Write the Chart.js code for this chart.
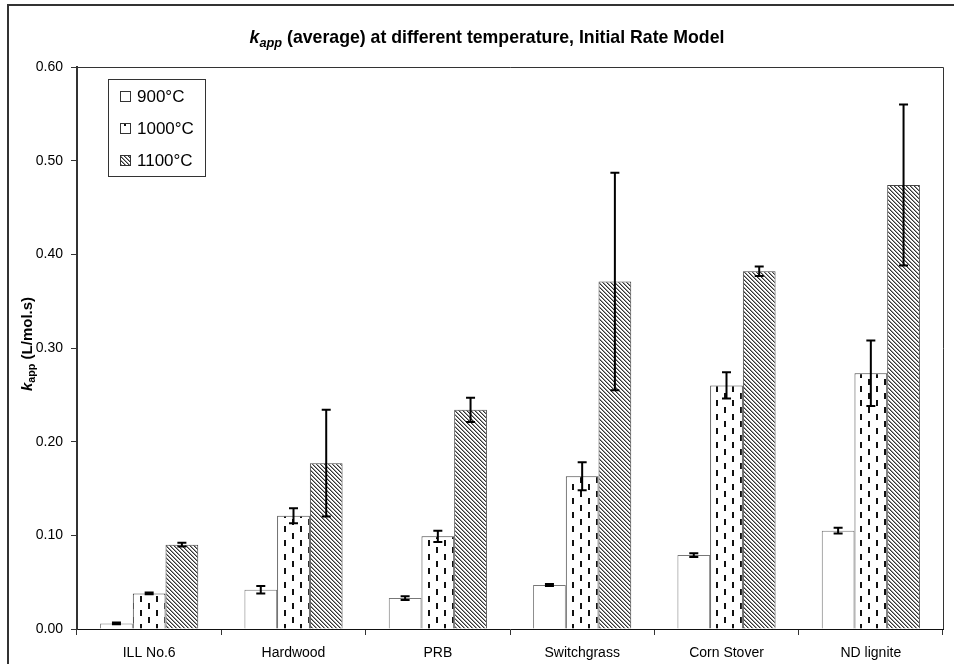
<!DOCTYPE html>
<html>
<head>
<meta charset="utf-8">
<script src="https://cdn.jsdelivr.net/npm/chart.js@4.4.1/dist/chart.umd.min.js"></script>
<style>
  html, body { margin: 0; padding: 0; background: #fff; }
  #wrap { position: relative; width: 954px; height: 664px; overflow: hidden; }
  canvas { display: block; }
</style>
</head>
<body>
<div id="wrap"><canvas id="kappChart" width="954" height="664"></canvas></div>
<script>
// Data
const categories = ["ILL No.6", "Hardwood", "PRB", "Switchgrass", "Corn Stover", "ND lignite"];
const seriesLabels = ["900°C", "1000°C", "1100°C"];
const k900 = [0.006, 0.042, 0.033, 0.047, 0.079, 0.105];
const k1000 = [0.038, 0.121, 0.099, 0.163, 0.260, 0.273];
const k1100 = [0.090, 0.177, 0.234, 0.371, 0.382, 0.474];
const err900 = [0.001, 0.004, 0.002, 0.001, 0.002, 0.003];
const err1000 = [0.001, 0.008, 0.006, 0.015, 0.014, 0.035];
const err1100 = [0.002, 0.057, 0.013, 0.116, 0.005, 0.086];
const yTicks = [0, 0.1, 0.2, 0.3, 0.4, 0.5, 0.6];

const FONT = "'Liberation Sans', Arial, sans-serif";

// fill patterns, like the Excel ones
function makePattern(w, h, paint) {
  const c = document.createElement("canvas");
  c.width = w;
  c.height = h;
  const g = c.getContext("2d");
  g.fillStyle = "#fff";
  g.fillRect(0, 0, w, h);
  paint(g);
  return document.getElementById("kappChart").getContext("2d").createPattern(c, "repeat");
}

const dashPattern = makePattern(16, 14, (g) => {
  g.fillStyle = "#111";
  g.fillRect(4, 1, 2, 6);
  g.fillRect(12, 8, 2, 6);
});

const hatchPattern = makePattern(4, 4, (g) => {
  for (let i = 0; i < 4; i++) {
    g.fillStyle = "#333";
    g.fillRect(i, i, 1, 1);
    g.fillStyle = "#999";
    g.fillRect((i + 1) % 4, i, 1, 1);
  }
});

// draws a line of text made of parts (italic / subscript pieces)
function drawRich(ctx, parts, cx, cy, size) {
  let total = 0;
  const widths = parts.map((p) => {
    const fs = p.sub ? size * 0.72 : size;
    ctx.font = (p.italic ? "italic " : "") + "bold " + fs + "px " + FONT;
    const w = ctx.measureText(p.text).width;
    total += w;
    return w;
  });
  let x = cx - total / 2;
  ctx.textBaseline = "middle";
  ctx.textAlign = "left";
  parts.forEach((p, i) => {
    const fs = p.sub ? size * 0.72 : size;
    ctx.font = (p.italic ? "italic " : "") + "bold " + fs + "px " + FONT;
    ctx.fillText(p.text, x, cy + (p.sub ? size * 0.3 : 0));
    x += widths[i];
  });
}

const errors = [err900, err1000, err1100];

const decorPlugin = {
  id: "decor",
  beforeDraw(chart) {
    const ctx = chart.ctx;
    ctx.save();
    ctx.fillStyle = "#fff";
    ctx.fillRect(0, 0, chart.width, chart.height);
    // outer frame of the chart
    ctx.strokeStyle = "#333";
    ctx.lineWidth = 2;
    ctx.strokeRect(8, 5, chart.width + 20, chart.height + 20);
    ctx.restore();
  },
  afterDatasetsDraw(chart) {
    const ctx = chart.ctx;
    const yScale = chart.scales.y;
    ctx.save();
    ctx.strokeStyle = "#000";
    ctx.lineWidth = 2;
    chart.data.datasets.forEach((ds, i) => {
      const meta = chart.getDatasetMeta(i);
      meta.data.forEach((bar, j) => {
        const v = ds.data[j];
        const e = errors[i][j];
        const yTop = yScale.getPixelForValue(v + e);
        const yBot = yScale.getPixelForValue(v - e);
        ctx.beginPath();
        ctx.moveTo(bar.x, yTop);
        ctx.lineTo(bar.x, yBot);
        ctx.moveTo(bar.x - 4.5, yTop);
        ctx.lineTo(bar.x + 4.5, yTop);
        ctx.moveTo(bar.x - 4.5, yBot);
        ctx.lineTo(bar.x + 4.5, yBot);
        ctx.stroke();
      });
    });
    ctx.restore();
  },
  afterDraw(chart) {
    const ctx = chart.ctx;
    const area = chart.chartArea;
    ctx.save();
    // plot area frame (top and right)
    ctx.strokeStyle = "#333";
    ctx.lineWidth = 1;
    ctx.beginPath();
    ctx.moveTo(area.left, area.top + 0.5);
    ctx.lineTo(area.right + 0.5, area.top + 0.5);
    ctx.lineTo(area.right + 0.5, area.bottom);
    ctx.stroke();

    // title
    ctx.fillStyle = "#000";
    drawRich(ctx, [
      { text: "k", italic: true },
      { text: "app", italic: true, sub: true },
      { text: " (average) at different temperature, Initial Rate Model" },
    ], 487, 38, 17.7);

    // y axis title
    ctx.save();
    ctx.translate(28, 344);
    ctx.rotate(-Math.PI / 2);
    drawRich(ctx, [
      { text: "k", italic: true },
      { text: "app", sub: true },
      { text: " (L/mol.s)" },
    ], 0, 0, 15);
    ctx.restore();

    // legend box
    const lx = 108, ly = 79, lw = 97, lh = 97;
    ctx.fillStyle = "#fff";
    ctx.fillRect(lx, ly, lw, lh);
    ctx.strokeStyle = "#333";
    ctx.lineWidth = 1;
    ctx.strokeRect(lx + 0.5, ly + 0.5, lw, lh);
    const rows = [96, 128, 160];
    chart.data.datasets.forEach((ds, i) => {
      const cy = rows[i];
      ctx.fillStyle = ds.backgroundColor;
      ctx.fillRect(120, cy - 5, 10, 10);
      ctx.strokeStyle = "#333";
      ctx.strokeRect(120.5, cy - 4.5, 10, 10);
      ctx.fillStyle = "#000";
      ctx.font = "17px " + FONT;
      ctx.textAlign = "left";
      ctx.textBaseline = "middle";
      ctx.fillText(ds.label, 137, cy + 1);
    });
    ctx.restore();
  },
};

new Chart(document.getElementById("kappChart"), {
  type: "bar",
  data: {
    labels: categories,
    datasets: [
      { label: seriesLabels[0], data: k900, backgroundColor: "#fff", borderColor: "#777", borderWidth: 1 },
      { label: seriesLabels[1], data: k1000, backgroundColor: dashPattern, borderColor: "#444", borderWidth: 1 },
      { label: seriesLabels[2], data: k1100, backgroundColor: hatchPattern, borderColor: "#444", borderWidth: 1 },
    ],
  },
  options: {
    responsive: false,
    animation: false,
    devicePixelRatio: 1,
    layout: { padding: { top: 67, right: 11, bottom: 0, left: 0 } },
    datasets: { bar: { categoryPercentage: 0.68, barPercentage: 1.0 } },
    plugins: {
      legend: { display: false },
      title: { display: false },
      tooltip: { enabled: false },
    },
    scales: {
      x: {
        offset: true,
        grid: { offset: true, drawOnChartArea: false, tickLength: 6, color: "#333" },
        border: { color: "#111", width: 1 },
        ticks: { color: "#000", font: { family: FONT, size: 14 }, padding: 10, maxRotation: 0 },
        afterFit: (scale) => { scale.height = 35; },
      },
      y: {
        min: 0,
        max: 0.6,
        afterBuildTicks: (scale) => { scale.ticks = yTicks.map((v) => ({ value: v })); },
        grid: { drawOnChartArea: false, tickLength: 6, color: "#333" },
        border: { color: "#333", width: 2 },
        ticks: {
          color: "#000",
          font: { family: FONT, size: 14 },
          padding: 8,
          callback: (v) => Number(v).toFixed(2),
        },
        afterFit: (scale) => { scale.width = 77; },
      },
    },
  },
  plugins: [decorPlugin],
});
</script>
</body>
</html>
